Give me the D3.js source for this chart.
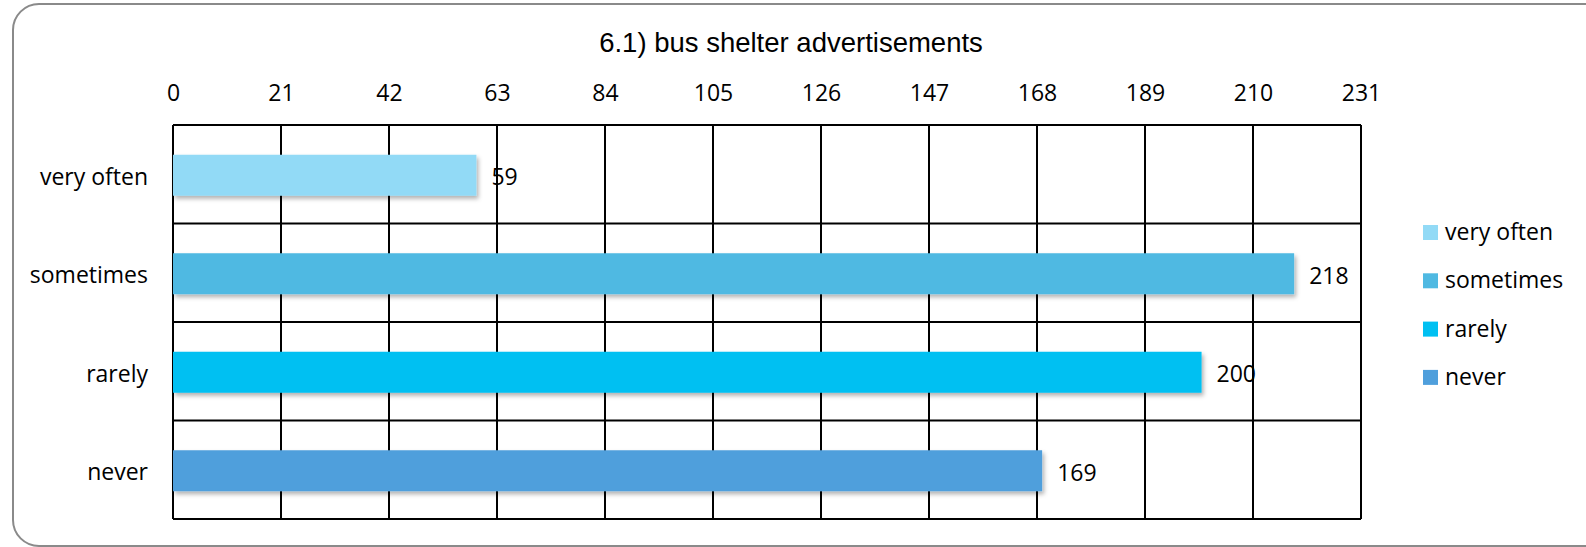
<!DOCTYPE html>
<html>
<head>
<meta charset="utf-8">
<script src="https://cdn.jsdelivr.net/npm/d3@7"></script>
<style>
  body { margin: 0; background: #fff; }
</style>
</head>
<body>
<div id="chart"></div>
<script>
// data
const categories = ["very often", "sometimes", "rarely", "never"];
const values = [59, 218, 200, 169];
const tickValues = [0, 21, 42, 63, 84, 105, 126, 147, 168, 189, 210, 231];
const colors = ["#92DAF6", "#4FB9E2", "#00C0F2", "#4F9FDC"];
const title = "6.1) bus shelter advertisements";

const svgWidth = 1586, svgHeight = 547;
const margin = { top: 125, right: 225, bottom: 28, left: 173 };
const width = svgWidth - margin.left - margin.right;
const height = svgHeight - margin.top - margin.bottom;
const txtFont = "'Open Sans', sans-serif";
const txtSize = 23;

const svg = d3.select("#chart")
  .append("svg")
  .attr("width", svgWidth)
  .attr("height", svgHeight);

// soft shadow under the bars
const defs = svg.append("defs");
const f = defs.append("filter").attr("id", "shadow")
  .attr("x", "-5%").attr("y", "-20%").attr("width", "110%").attr("height", "160%");
f.append("feDropShadow").attr("dx", 2).attr("dy", 3).attr("stdDeviation", 2)
  .attr("flood-color", "#000").attr("flood-opacity", 0.3);

// outer rounded frame (right side runs off the picture)
svg.append("rect")
  .attr("x", 13).attr("y", 4)
  .attr("width", 1610).attr("height", 542)
  .attr("rx", 26).attr("ry", 26)
  .attr("fill", "none")
  .attr("stroke", "#8a8a8a")
  .attr("stroke-width", 2);

svg.append("text")
  .attr("x", 791)
  .attr("y", 52)
  .attr("text-anchor", "middle")
  .attr("font-family", "'Liberation Sans', Arial, sans-serif")
  .attr("font-size", 27.5)
  .attr("fill", "#000")
  .text(title);

const chart = svg.append("g")
  .attr("transform", `translate(${margin.left}, ${margin.top})`);

const xScale = d3.scaleLinear().domain([0, 231]).range([0, width]);
const yScale = d3.scaleBand().domain(categories).range([0, height]).paddingInner(0).paddingOuter(0);
const barH = 41;

// vertical grid lines
chart.selectAll(".vgrid")
  .data(tickValues)
  .enter()
  .append("line")
  .attr("x1", d => xScale(d)).attr("x2", d => xScale(d))
  .attr("y1", 0).attr("y2", height)
  .attr("stroke", "#000").attr("stroke-width", 2);

// horizontal band lines
chart.selectAll(".hgrid")
  .data(categories.concat(["end"]))
  .enter()
  .append("line")
  .attr("x1", 0).attr("x2", width)
  .attr("y1", (d, i) => i * yScale.step())
  .attr("y2", (d, i) => i * yScale.step())
  .attr("stroke", "#000").attr("stroke-width", 2);

// top axis labels
const xAxis = chart.append("g")
  .call(d3.axisTop(xScale).tickValues(tickValues).tickSize(0).tickPadding(0));
xAxis.select(".domain").remove();
xAxis.selectAll("text")
  .attr("y", -24)
  .attr("font-family", txtFont)
  .attr("font-size", txtSize)
  .attr("fill", "#000");

// left axis labels
const yAxis = chart.append("g")
  .call(d3.axisLeft(yScale).tickSize(0).tickPadding(25));
yAxis.select(".domain").remove();
yAxis.selectAll("text")
  .attr("y", 3)
  .attr("font-family", txtFont)
  .attr("font-size", txtSize)
  .attr("fill", "#000");

// bars
chart.selectAll(".bar")
  .data(values)
  .enter()
  .append("rect")
  .attr("class", "bar")
  .attr("x", 0)
  .attr("y", (d, i) => yScale(categories[i]) + yScale.bandwidth() / 2 - barH / 2 + 1)
  .attr("width", d => xScale(d))
  .attr("height", barH)
  .attr("fill", (d, i) => colors[i])
  .attr("filter", "url(#shadow)");

// value labels
chart.selectAll(".val")
  .data(values)
  .enter()
  .append("text")
  .attr("x", d => xScale(d) + 15)
  .attr("y", (d, i) => yScale(categories[i]) + yScale.bandwidth() / 2 + 3)
  .attr("dy", "0.35em")
  .attr("font-family", txtFont)
  .attr("font-size", txtSize)
  .attr("fill", "#000")
  .text(d => d);

// legend
const legend = svg.append("g").attr("transform", "translate(1423, 232)");
const item = legend.selectAll(".item")
  .data(categories)
  .enter()
  .append("g")
  .attr("transform", (d, i) => `translate(0, ${i * 48.3})`);
item.append("rect")
  .attr("x", 0).attr("y", -7)
  .attr("width", 15).attr("height", 15)
  .attr("fill", (d, i) => colors[i]);
item.append("text")
  .attr("x", 22)
  .attr("y", 0)
  .attr("dy", "0.35em")
  .attr("font-family", txtFont)
  .attr("font-size", txtSize)
  .attr("fill", "#000")
  .text(d => d);
</script>
</body>
</html>
